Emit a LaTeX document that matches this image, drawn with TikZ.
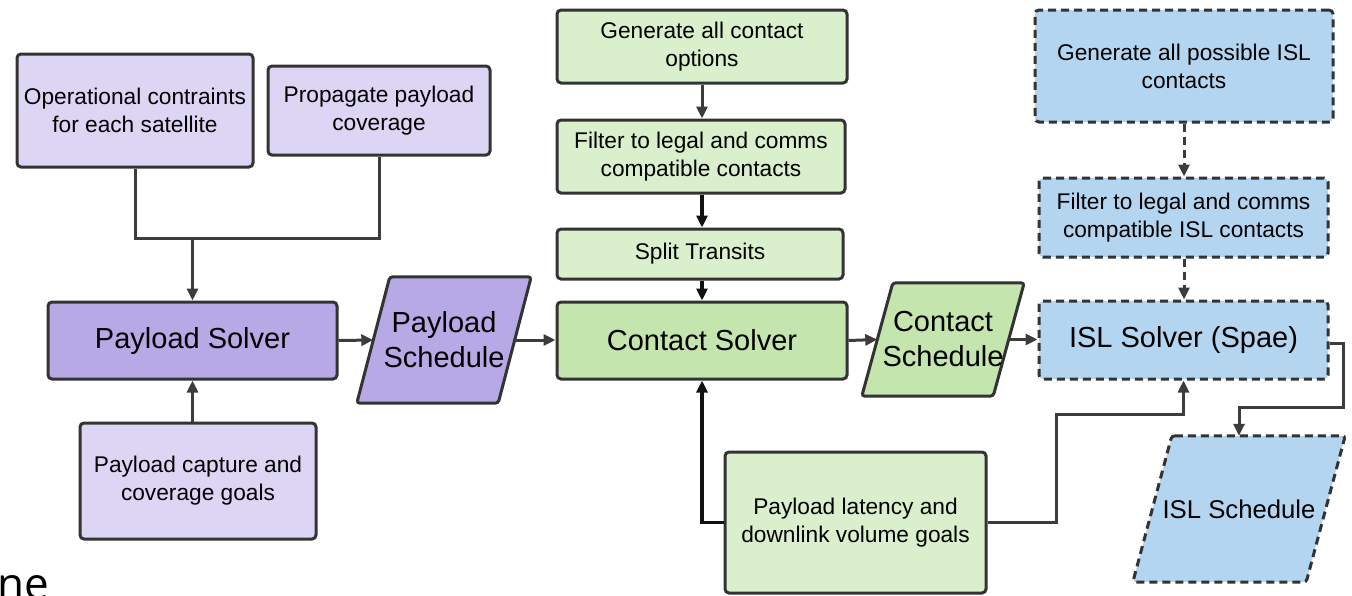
\documentclass[tikz,border=0pt]{standalone}
\usepackage{fontspec}
\setmainfont{Liberation Sans}
\newfontfamily\nefont{Open Sans}
\usetikzlibrary{arrows.meta,backgrounds}

\definecolor{lpur}{HTML}{DCD5F3}
\definecolor{dpur}{HTML}{B7A9E5}
\definecolor{lgrn}{HTML}{DAEFCB}
\definecolor{dgrn}{HTML}{C4E5AD}
\definecolor{lblu}{HTML}{B4D5F0}
\definecolor{edge}{HTML}{333333}
\definecolor{wire}{HTML}{3C3C3C}
\definecolor{wireb}{HTML}{111111}

\begin{document}
\begin{tikzpicture}[x=1pt,y=-1pt,
 box/.style={draw=edge, line width=3pt, rounded corners=4pt, inner sep=0pt, align=center, font=\fontsize{22.7}{28}\selectfont},
 big/.style={font=\fontsize{29}{35}\selectfont},
 dsh/.style={dash pattern=on 8pt off 5pt},
 paratext/.style={inner sep=0pt, align=center},
 pshape/.style={draw=edge, line width=3pt, rounded corners=3pt},
 arr/.style={draw=wire, line width=3pt, -{Triangle[length=12pt,width=11pt]}},
 arrb/.style={arr, draw=wireb, line width=3.4pt},
 ln/.style={draw=wire, line width=3pt},
]
\useasboundingbox (0,0) rectangle (1352,595);

% purple group
\node[box, fill=lpur, minimum width=236pt, minimum height=113pt] (opc) at (135,110.5) {Operational contraints\\for each satellite};
\node[box, fill=lpur, minimum width=222pt, minimum height=89pt] (prop) at (379,110.5) {Propagate payload\\coverage};
\node[box, big, fill=dpur, minimum width=289pt, minimum height=77pt] (ps) at (192.5,340.5) {Payload Solver};
\node[box, fill=lpur, minimum width=236pt, minimum height=116pt] (cap) at (198,481) {Payload capture and\\coverage goals};
\node[paratext, big, minimum width=141pt, minimum height=126pt] (psch) at (444,340) {Payload\\Schedule};

% green group
\node[box, fill=lgrn, minimum width=290pt, minimum height=73pt] (gen) at (702,46.5) {Generate all contact\\options};
\node[box, fill=lgrn, minimum width=288pt, minimum height=73pt] (filt) at (701,156.5) {Filter to legal and comms\\compatible contacts};
\node[box, fill=lgrn, minimum width=286pt, minimum height=50pt] (split) at (700,254) {Split Transits};
\node[box, big, fill=dgrn, minimum width=290pt, minimum height=77pt] (cs) at (702,340.5) {Contact Solver};
\node[paratext, big, minimum width=131pt, minimum height=113pt] (csch) at (943,339.5) {Contact\\Schedule};
\node[box, fill=lgrn, minimum width=261pt, minimum height=141pt] (lat) at (855.5,522.5) {Payload latency and\\downlink volume goals};

% blue group
\node[box, dsh, fill=lblu, minimum width=298pt, minimum height=112pt] (igen) at (1184,66) {Generate all possible ISL\\contacts};
\node[box, dsh, fill=lblu, minimum width=289pt, minimum height=79pt] (ifilt) at (1183.5,217.5) {Filter to legal and comms\\compatible ISL contacts};
\node[box, dsh, big, fill=lblu, minimum width=289pt, minimum height=78pt] (isl) at (1183.5,340) {ISL Solver (Spae)};
\node[paratext, font=\fontsize{25.7}{30}\selectfont, minimum width=173pt, minimum height=146pt] (isch) at (1239,509) {ISL Schedule};

% parallelogram outlines (behind their texts)
\begin{scope}[on background layer]
\draw[pshape, fill=dpur] ([xshift=16.5pt]psch.north west) -- ([xshift=16.5pt]psch.north east) -- ([xshift=-16.5pt]psch.south east) -- ([xshift=-16.5pt]psch.south west) -- cycle;
\draw[pshape, fill=dgrn] ([xshift=15.5pt]csch.north west) -- ([xshift=15.5pt]csch.north east) -- ([xshift=-15.5pt]csch.south east) -- ([xshift=-15.5pt]csch.south west) -- cycle;
\draw[pshape, dsh, fill=lblu] ([xshift=19.5pt]isch.north west) -- ([xshift=19.5pt]isch.north east) -- ([xshift=-19.5pt]isch.south east) -- ([xshift=-19.5pt]isch.south west) -- cycle;
\end{scope}

% stray slide text
\node[anchor=base west, inner sep=0pt, font=\nefont\fontsize{44}{44}\selectfont] (ne) at (-3,599) {ne};

% connectors, purple
\coordinate (j) at (192.5,238);
\draw[ln] (opc.south) |- (j);
\draw[ln] (prop.south) |- (j);
\draw[arr] (j) -- (ps.north);
\draw[arr] (cap.north -| ps.south) -- (ps.south);
\draw[arr] (ps.east) -- (psch.west);
\draw[arr] (psch.east) -- (psch.east -| cs.west);

% connectors, green
\draw[arr] (gen.south -| cs.north) -- (filt.north -| cs.north);
\draw[arrb] (filt.south -| cs.north) -- (split.north -| cs.north);
\draw[arrb] (split.south -| cs.north) -- (cs.north);
\draw[arrb] (lat.west) -| (cs.south);
\draw[arr] (cs.east) -- (csch.west);
\draw[arr] (csch.east) -- (csch.east -| isl.west);

% connectors, blue
\draw[arr, dsh] (igen.south) -- (ifilt.north -| igen.south);
\draw[arr, dsh] (ifilt.south -| igen.south) -- (isl.north -| igen.south);
\coordinate (q) at (1056,414);
\draw[arr] (lat.east) -| (q) -| (isl.south);
\coordinate (r1) at (1343,343);
\coordinate (r2) at (1343,407);
\draw[arr] (isl.east |- r1) -- (r1) -- (r2) -| (isch.center |- isch.north);
\end{tikzpicture}
\end{document}
